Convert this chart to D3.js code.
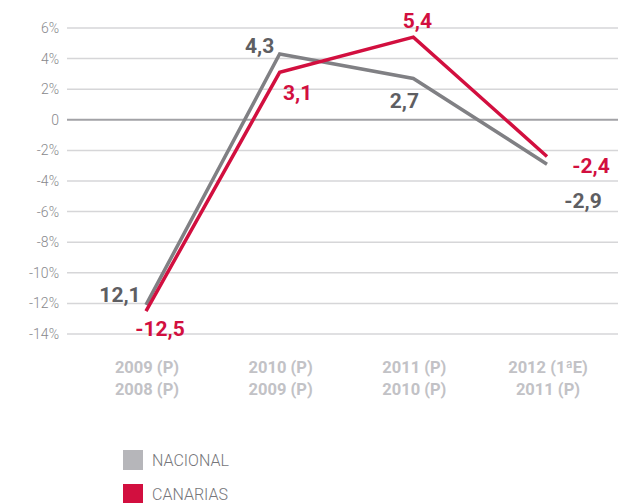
<!DOCTYPE html>
<html>
<head>
<meta charset="utf-8">
<script src="https://cdn.jsdelivr.net/npm/d3@7"></script>
<style>
  body { margin: 0; background: #fff; }
  svg { display: block; }
</style>
</head>
<body>
<div id="chart"></div>
<script>
// data
const categories = ["c2009", "c2010", "c2011", "c2012"];
const catLine1 = ["2009 (P)", "2010 (P)", "2011 (P)", "2012 (1ªE)"];
const catLine2 = ["2008 (P)", "2009 (P)", "2010 (P)", "2011 (P)"];
const nacional = [-12.1, 4.3, 2.7, -2.9];
const canarias = [-12.5, 3.1, 5.4, -2.4];
const nacionalLabels = ["12,1", "4,3", "2,7", "-2,9"];
const canariasLabels = ["-12,5", "3,1", "5,4", "-2,4"];
const yTicks = [6, 4, 2, 0, -2, -4, -6, -8, -10, -12, -14];
const seriesNames = ["NACIONAL", "CANARIAS"];

const width = 624, height = 503;
const grayLine = "#808084", redLine = "#d20f3f";
const grayText = "#5e5e62", redText = "#d20f3f";

const svg = d3.select("#chart").append("svg")
  .attr("width", width)
  .attr("height", height);

const x = d3.scalePoint().domain(categories).range([146, 547]);
const y = d3.scaleLinear().domain([-14, 6]).range([334, 28]);

// grid
const grid = svg.append("g");
grid.selectAll("line")
  .data(yTicks)
  .enter().append("line")
    .attr("x1", 67).attr("x2", 618)
    .attr("y1", d => y(d)).attr("y2", d => y(d))
    .attr("stroke", d => d === 0 ? "#a2a2a6" : "#d6d6d8")
    .attr("stroke-width", d => d === 0 ? 2 : 1.5);

grid.selectAll("text")
  .data(yTicks)
  .enter().append("text")
    .attr("x", 59)
    .attr("y", d => y(d))
    .attr("dy", "0.36em")
    .attr("text-anchor", "end")
    .style("font", "300 14px Roboto, sans-serif")
    .style("fill", "#88888c")
    .text(d => d === 0 ? "0" : d + "%");

// category labels
const cats = svg.append("g");
cats.selectAll("text.l1")
  .data(categories)
  .enter().append("text")
    .attr("class", "l1")
    .attr("x", (d, i) => x(d) + 1)
    .attr("y", 373)
    .attr("text-anchor", "middle")
    .style("font", "bold 16.5px Roboto, sans-serif")
    .style("fill", "#c2c2c6")
    .text((d, i) => catLine1[i]);
cats.selectAll("text.l2")
  .data(categories)
  .enter().append("text")
    .attr("class", "l2")
    .attr("x", (d, i) => x(d) + 1)
    .attr("y", 395)
    .attr("text-anchor", "middle")
    .style("font", "bold 16.5px Roboto, sans-serif")
    .style("fill", "#c2c2c6")
    .text((d, i) => catLine2[i]);

const line = d3.line()
  .x((d, i) => x(categories[i]))
  .y(d => y(d));

svg.append("path")
  .attr("d", line(nacional))
  .attr("fill", "none")
  .attr("stroke", grayLine)
  .attr("stroke-width", 3.5)
  .attr("stroke-linejoin", "miter");

svg.append("path")
  .attr("d", line(canarias))
  .attr("fill", "none")
  .attr("stroke", redLine)
  .attr("stroke-width", 3.5)
  .attr("stroke-linejoin", "miter");

// value labels (offsets from the point)
const nacOffsets = [[-26, -3], [-20, -1], [-9, 30], [36, 44]];
const canOffsets = [[14, 25], [18, 28], [4, -9], [44, 16]];

svg.append("g").selectAll("text")
  .data(nacional)
  .enter().append("text")
    .attr("x", (d, i) => x(categories[i]) + nacOffsets[i][0])
    .attr("y", (d, i) => y(d) + nacOffsets[i][1])
    .attr("text-anchor", "middle")
    .style("font", "bold 21px Roboto, sans-serif")
    .style("fill", grayText)
    .text((d, i) => nacionalLabels[i]);

svg.append("g").selectAll("text")
  .data(canarias)
  .enter().append("text")
    .attr("x", (d, i) => x(categories[i]) + canOffsets[i][0])
    .attr("y", (d, i) => y(d) + canOffsets[i][1])
    .attr("text-anchor", "middle")
    .style("font", "bold 21px Roboto, sans-serif")
    .style("fill", redText)
    .text((d, i) => canariasLabels[i]);

// legend
const legend = svg.append("g").selectAll("g")
  .data(seriesNames)
  .enter().append("g")
    .attr("transform", (d, i) => "translate(123," + (450 + i * 34) + ")");
legend.append("rect")
  .attr("width", 20).attr("height", 20)
  .attr("fill", (d, i) => i === 0 ? "#b6b6ba" : "#d20f3f");
legend.append("text")
  .attr("x", 29)
  .attr("y", 16)
  .style("font", "300 16px Roboto, sans-serif")
  .style("fill", "#76767a")
  .text(d => d);
</script>
</body>
</html>
